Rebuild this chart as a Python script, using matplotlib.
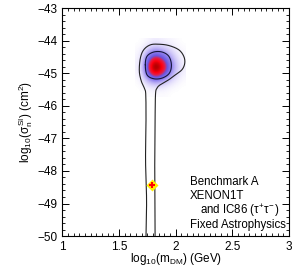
import numpy as np
import matplotlib
matplotlib.use('Agg')
import matplotlib.pyplot as plt
from matplotlib.colors import LinearSegmentedColormap

plt.rcParams['font.family'] = ['Liberation Sans', 'DejaVu Sans']
plt.rcParams['mathtext.fontset'] = 'custom'
plt.rcParams['mathtext.rm'] = 'Liberation Sans'
plt.rcParams['mathtext.it'] = 'Liberation Sans'

# profile likelihood (relative)
grid_x = [1.665, 1.715, 1.765, 1.815, 1.865, 1.915, 1.965, 2.015, 2.065]
grid_y = [-44.04, -44.24, -44.44, -44.64, -44.84, -45.04, -45.24, -45.44, -45.64]
like = [
    [0.00, 0.01, 0.03, 0.05, 0.04, 0.03, 0.02, 0.01, 0.00],
    [0.01, 0.04, 0.12, 0.17, 0.15, 0.11, 0.07, 0.03, 0.01],
    [0.02, 0.10, 0.31, 0.46, 0.41, 0.28, 0.15, 0.06, 0.02],
    [0.03, 0.17, 0.56, 0.82, 0.72, 0.50, 0.26, 0.11, 0.03],
    [0.03, 0.21, 0.68, 1.00, 0.88, 0.60, 0.31, 0.13, 0.04],
    [0.02, 0.16, 0.50, 0.74, 0.65, 0.44, 0.23, 0.10, 0.03],
    [0.01, 0.07, 0.20, 0.30, 0.26, 0.18, 0.09, 0.04, 0.01],
    [0.00, 0.02, 0.05, 0.07, 0.06, 0.04, 0.02, 0.01, 0.00],
    [0.00, 0.00, 0.01, 0.01, 0.01, 0.01, 0.00, 0.00, 0.00],
]

# 95% contour (with the tail down to the bottom)
outer_x = [1.737, 1.742, 1.733, 1.737, 1.735, 1.726, 1.696, 1.678, 1.687, 1.717,
           1.775, 1.849, 1.938, 2.026, 2.070, 2.079, 2.055, 1.996, 1.938, 1.864,
           1.834, 1.821, 1.817, 1.814, 1.817, 1.817]
outer_y = [-50.0, -48.90, -47.67, -46.44, -45.67, -45.49, -45.25, -44.94, -44.54, -44.28,
           -44.13, -44.11, -44.15, -44.28, -44.48, -44.69, -44.89, -45.05, -45.20, -45.35,
           -45.46, -45.64, -46.44, -47.67, -48.90, -50.0]
# 68% contour
inner_x = [1.731, 1.746, 1.805, 1.879, 1.938, 1.961, 1.943, 1.879, 1.805, 1.746]
inner_y = [-44.74, -44.48, -44.35, -44.35, -44.48, -44.74, -45.00, -45.15, -45.17, -45.05]

bench_x = 1.793
bench_y = -48.43

lines = ['Benchmark A', 'XENON1T', r'and IC86 ($\tau^{+}\tau^{-}$)', 'Fixed Astrophysics']


def smooth(x, y, closed, n=8):
    # catmull-rom through the read points
    p = np.column_stack([x, y])
    if closed:
        p = np.vstack([p[-1], p, p[0], p[1]])
    else:
        p = np.vstack([p[0], p, p[-1]])
    out = []
    t = np.linspace(0, 1, n, endpoint=False)[:, None]
    for i in range(1, len(p) - 2):
        p0, p1, p2, p3 = p[i-1], p[i], p[i+1], p[i+2]
        out.append(0.5 * ((2*p1) + (-p0 + p2)*t + (2*p0 - 5*p1 + 4*p2 - p3)*t**2
                          + (-p0 + 3*p1 - 3*p2 + p3)*t**3))
    out.append(p[-2][None, :])
    out = np.vstack(out)
    return out[:, 0], out[:, 1]


cmap = LinearSegmentedColormap.from_list('lk', [
    (0.0, '#ffffff'), (0.06, '#ece8fd'), (0.18, '#c4baf7'), (0.32, '#8f80ee'),
    (0.5, '#6a56e0'), (0.62, '#e0204a'), (0.74, '#ff0010'), (0.88, '#b00000'),
    (1.0, '#000000')])

fig = plt.figure(figsize=(2.99, 2.68), dpi=100)
ax = fig.add_axes([0.209, 0.119, 0.758, 0.851])

dx = grid_x[1] - grid_x[0]
dy = grid_y[0] - grid_y[1]
ax.imshow(np.array(like), cmap=cmap, vmin=0, vmax=1, interpolation='bicubic',
          extent=[grid_x[0] - dx/2, grid_x[-1] + dx/2, grid_y[-1] - dy/2, grid_y[0] + dy/2],
          aspect='auto', zorder=1)

sx, sy = smooth(outer_x, outer_y, False)
ax.plot(sx, sy, color='#222222', lw=0.8, zorder=3)
sx, sy = smooth(inner_x, inner_y, True)
ax.plot(sx, sy, color='#15153a', lw=0.8, zorder=3)

ax.plot(bench_x, bench_y, marker='D', ms=6, color='#ffee00', mec='none', zorder=4)
ax.plot(bench_x, bench_y, marker='+', ms=4, mew=1.5, color='#ff0000', zorder=5)

ax.set_xlim(1, 3)
ax.set_ylim(-50, -43)
ax.set_xticks([1, 1.5, 2, 2.5, 3])
ax.set_xticklabels(['1', '1.5', '2', '2.5', '3'])
ax.set_xticks(np.arange(1, 3.001, 0.05), minor=True)
ax.set_yticks(np.arange(-50, -42.9, 1))
ax.set_yticks(np.arange(-50, -42.9, 0.2), minor=True)
ax.tick_params(which='both', direction='in', top=True, right=True, labelsize=8.5)
ax.tick_params(which='major', length=5, width=0.7)
ax.tick_params(which='minor', length=2.5, width=0.6)
for s in ax.spines.values():
    s.set_linewidth(0.8)

ax.set_xlabel(r'log$_{10}$(m$_{\rm DM}$) (GeV)', fontsize=8.5, labelpad=-1.5)
ax.set_ylabel(r'log$_{10}$($\sigma_{\rm n}^{\rm SI}$) (cm$^2$)', fontsize=8.5, labelpad=2)

ax.text(2.126, -48.34, lines[0], fontsize=8.3, va='center', zorder=6)
ax.text(2.126, -48.77, lines[1], fontsize=8.3, va='center', zorder=6)
ax.text(2.214, -49.23, lines[2], fontsize=8.3, va='center', zorder=6)
ax.text(2.126, -49.66, lines[3], fontsize=8.3, va='center', zorder=6)

fig.savefig('out.png', dpi=100)
